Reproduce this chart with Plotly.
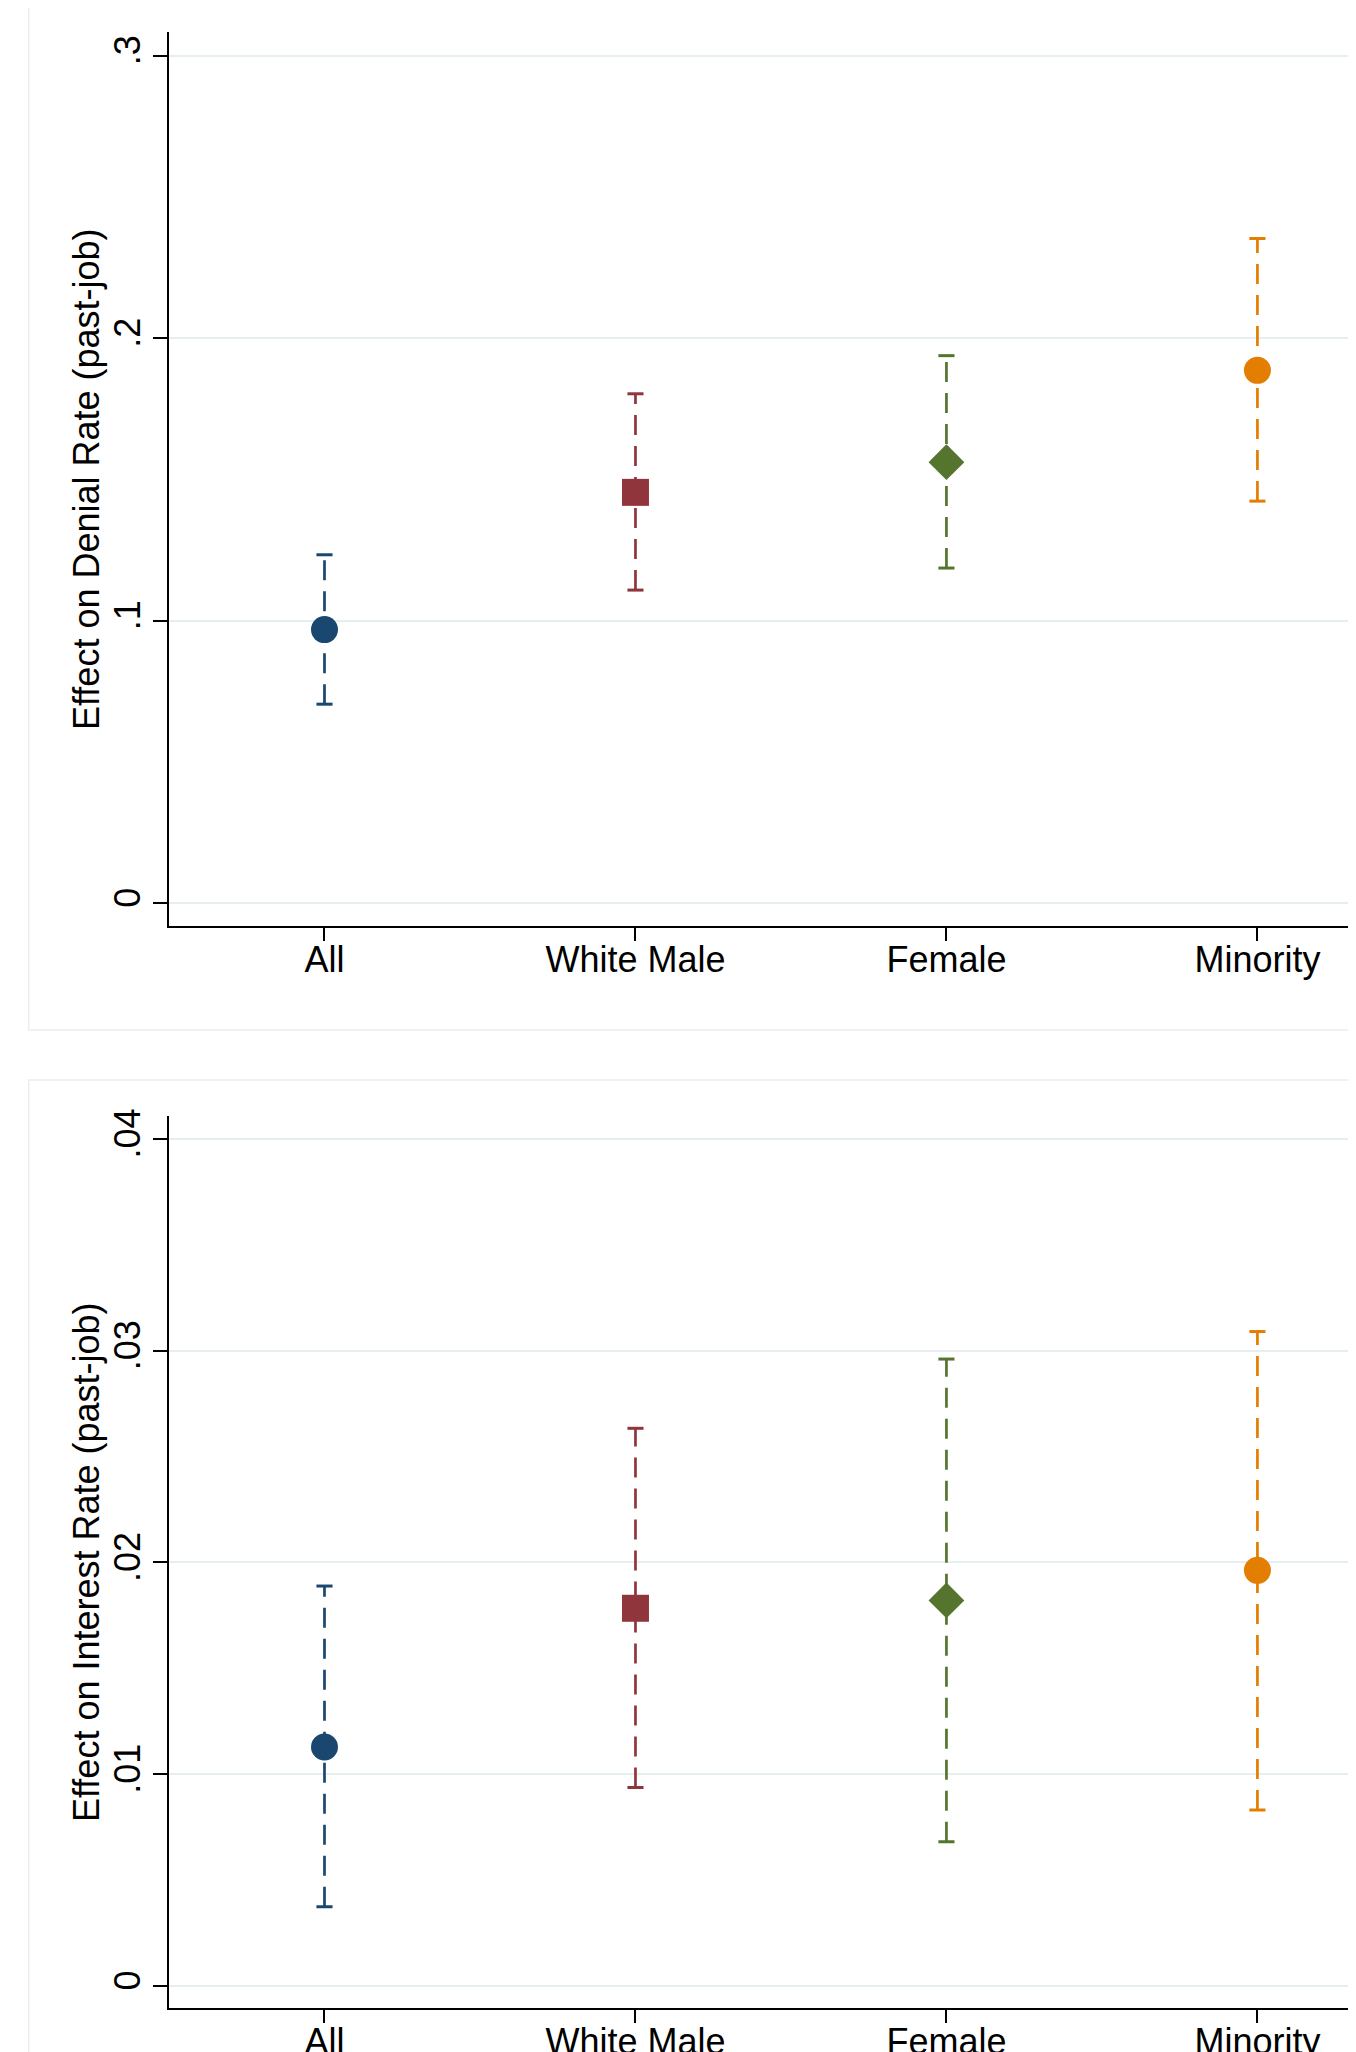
import plotly.graph_objects as go

categories = ["All", "White Male", "Female", "Minority"]
colors = ["#1a476f", "#90353b", "#55752f", "#e37e00"]
symbols = ["circle", "square", "diamond", "circle"]
marker_sizes = [27, 27, 27.5, 27]

denial_est = [0.0968, 0.1454, 0.1561, 0.1886]
denial_lo = [0.0704, 0.1108, 0.1186, 0.1423]
denial_hi = [0.1233, 0.1803, 0.1938, 0.2353]

interest_est = [0.01128, 0.01783, 0.0182, 0.01962]
interest_lo = [0.00373, 0.00936, 0.0068, 0.0083]
interest_hi = [0.01888, 0.02633, 0.0296, 0.0309]

denial_ticks = [0, 0.1, 0.2, 0.3]
denial_ticktext = ["0", ".1", ".2", ".3"]
interest_ticks = [0, 0.01, 0.02, 0.03, 0.04]
interest_ticktext = ["0", ".01", ".02", ".03", ".04"]

# page body has an 8px default margin; figure sized to fill the rest
OFF = 8
W, H = 1356 - OFF, 2052 - OFF
FONT = "Liberation Sans, Arial, sans-serif"


def px_x(v):
    return (v - OFF) / W


def px_y(v):
    return 1 - (v - OFF) / H


fig = go.Figure()


def add_panel(est, lo, hi, xa, ya):
    for i, cat in enumerate(categories):
        fig.add_trace(go.Scatter(
            x=[cat, cat], y=[lo[i], hi[i]], xaxis=xa, yaxis=ya,
            mode="lines+markers",
            line=dict(color=colors[i], width=2.7, dash="20px,11px"),
            marker=dict(symbol="line-ew", size=11.5,
                        line=dict(color=colors[i], width=3)),
            showlegend=False, hoverinfo="skip"))
        fig.add_trace(go.Scatter(
            x=[cat], y=[est[i]], xaxis=xa, yaxis=ya, mode="markers",
            marker=dict(symbol=symbols[i], size=marker_sizes[i],
                        color=colors[i], line=dict(width=0)),
            showlegend=False))


add_panel(denial_est, denial_lo, denial_hi, "x", "y")
add_panel(interest_est, interest_lo, interest_hi, "x2", "y2")

xdom = [px_x(169), 1.0]
common_x = dict(type="category", categoryorder="array", categoryarray=categories,
                range=[-0.5, 3.317], showline=True, linecolor="black", linewidth=2,
                ticks="outside", ticklen=13, tickwidth=2, tickcolor="black",
                showgrid=False, zeroline=False, automargin=False,
                tickfont=dict(family=FONT, size=36, color="black"),
                ticklabelstandoff=-12,
                domain=xdom, fixedrange=True)
common_y = dict(showline=True, linecolor="black", linewidth=2,
                ticks="outside", ticklen=14, tickwidth=2, tickcolor="black",
                showgrid=True, gridcolor="#e6eef0", gridwidth=2,
                zeroline=False, automargin=False, tickangle=-90,
                tickfont=dict(family=FONT, size=36, color="black"),
                ticklabelstandoff=-1)

fig.update_layout(
    width=W, height=H,
    margin=dict(l=0, r=0, t=0, b=0),
    paper_bgcolor="white", plot_bgcolor="white",
    showlegend=False,
    xaxis=dict(common_x, anchor="y"),
    yaxis=dict(common_y, anchor="x", range=[-0.008, 0.3084],
               domain=[px_y(925.6), px_y(32)],
               tickvals=denial_ticks, ticktext=denial_ticktext),
    xaxis2=dict(common_x, anchor="y2"),
    yaxis2=dict(common_y, anchor="x2", range=[-0.00104, 0.04108],
                domain=[px_y(2007.8), px_y(1116)],
                tickvals=interest_ticks, ticktext=interest_ticktext),
)

# outer panel frames
fig.add_shape(type="rect", xref="paper", yref="paper",
              x0=px_x(28.7), x1=1.05, y0=px_y(1030), y1=1.05,
              line=dict(color="#e8eef0", width=1.5), layer="below")
fig.add_shape(type="rect", xref="paper", yref="paper",
              x0=px_x(28.7), x1=1.05, y0=-0.05, y1=px_y(1080),
              line=dict(color="#e8eef0", width=1.5), layer="below")

fig.add_annotation(text="Effect on Denial Rate (past-job)", xref="paper", yref="paper",
                   x=px_x(86), y=px_y(479), textangle=-90, showarrow=False,
                   xanchor="center", yanchor="middle",
                   font=dict(family=FONT, size=36, color="black"))
fig.add_annotation(text="Effect on Interest Rate (past-job)", xref="paper", yref="paper",
                   x=px_x(86), y=px_y(1562), textangle=-90, showarrow=False,
                   xanchor="center", yanchor="middle",
                   font=dict(family=FONT, size=36, color="black"))

fig.write_html("out.html", config={"displayModeBar": False})
